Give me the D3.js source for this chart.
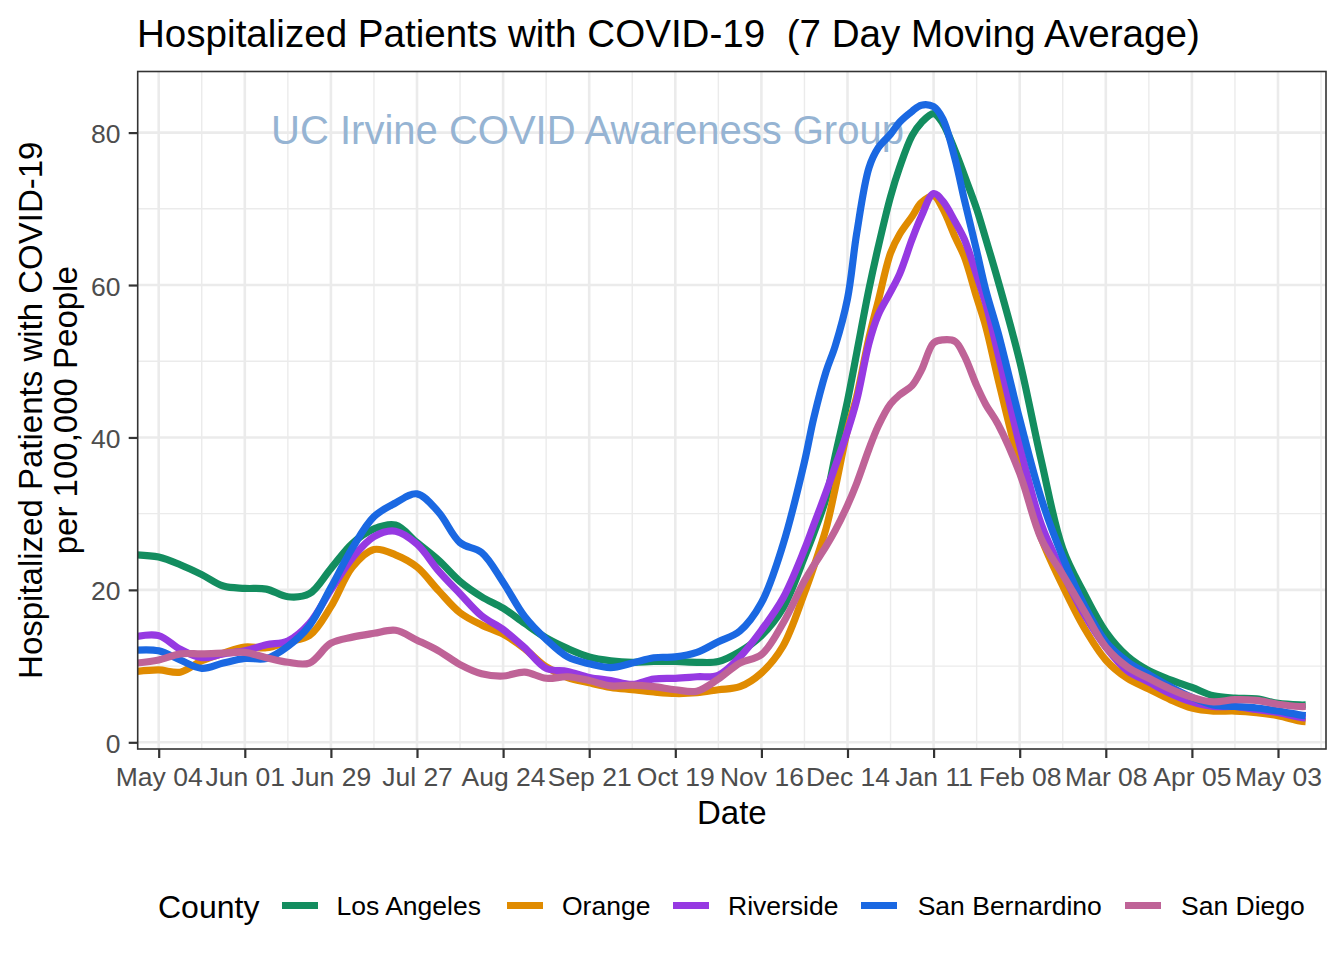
<!DOCTYPE html>
<html>
<head>
<meta charset="utf-8">
<script src="https://cdn.jsdelivr.net/npm/d3@7"></script>
<style>
  body { margin: 0; background: #ffffff; }
  svg { display: block; }
  text { font-family: "Liberation Sans", Arial, Helvetica, sans-serif; }
</style>
</head>
<body>
<svg id="chart" width="1344" height="960"></svg>
<script>
// ---------------- DATA ----------------
const dates = [
  "2020-04-27","2020-05-04","2020-05-11","2020-05-18","2020-05-25",
  "2020-06-01","2020-06-08","2020-06-15","2020-06-22","2020-06-29",
  "2020-07-06","2020-07-13","2020-07-20","2020-07-27",
  "2020-08-03","2020-08-10","2020-08-17","2020-08-24","2020-08-31",
  "2020-09-07","2020-09-14","2020-09-21","2020-09-28",
  "2020-10-05","2020-10-12","2020-10-19","2020-10-26",
  "2020-11-02","2020-11-09","2020-11-16","2020-11-23","2020-11-30",
  "2020-12-03","2020-12-07","2020-12-10","2020-12-14","2020-12-17","2020-12-21","2020-12-24","2020-12-28","2020-12-31",
  "2021-01-04","2021-01-07","2021-01-11","2021-01-14","2021-01-18","2021-01-21","2021-01-25","2021-01-28",
  "2021-02-01","2021-02-08","2021-02-15","2021-02-22",
  "2021-03-01","2021-03-08","2021-03-15","2021-03-22","2021-03-29",
  "2021-04-05","2021-04-12","2021-04-19","2021-04-26",
  "2021-05-03","2021-05-10","2021-05-12"
];

const losAngeles = [
  24.6,24.3,23.3,22.0,20.5,
  20.2,20.1,19.1,19.5,22.8,
  26.1,28.0,28.5,26.2,
  23.9,21.1,19.1,17.6,15.6,
  13.7,12.3,11.2,10.7,
  10.5,10.6,10.6,10.5,
  10.6,11.9,14.0,17.6,24.3,
  27.4,32.0,37.6,44.8,51.1,59.5,65.0,71.6,75.5,
  79.6,81.3,82.5,81.2,77.6,74.4,70.0,66.0,
  60.5,50.0,37.0,25.4,
  19.5,14.5,11.3,9.4,8.2,
  7.2,6.1,5.8,5.7,
  5.1,4.9,4.9
];

const orange = [
  9.3,9.5,9.2,10.7,11.7,
  12.5,12.4,13.2,14.0,17.8,
  23.0,25.3,24.6,23.0,
  19.9,17.0,15.4,14.2,12.3,
  9.9,8.5,7.8,7.2,
  6.9,6.6,6.4,6.5,
  6.9,7.3,9.1,12.6,19.6,
  23.0,28.0,33.3,41.0,45.4,53.1,57.9,64.2,66.7,
  69.0,70.8,71.7,70.0,66.3,63.7,58.4,54.5,
  47.6,36.3,26.8,20.5,
  15.0,10.8,8.4,7.0,5.6,
  4.5,4.1,4.1,3.9,
  3.5,2.8,2.7
];

const riverside = [
  13.9,14.0,12.2,11.1,11.6,
  12.0,12.8,13.3,15.6,20.0,
  24.2,27.0,27.7,26.0,
  22.5,19.5,16.6,14.8,12.4,
  9.7,9.3,8.5,8.1,
  7.6,8.3,8.4,8.6,
  8.8,11.2,14.7,18.9,25.3,
  28.5,32.8,36.2,40.8,44.9,52.4,56.1,59.1,61.5,
  66.0,69.0,72.0,71.0,68.3,66.0,61.3,57.5,
  50.9,39.0,28.6,22.3,
  16.8,12.5,9.4,7.9,6.4,
  5.3,4.7,4.7,4.3,
  3.9,3.3,3.2
];

const sanBernardino = [
  12.1,12.0,10.8,9.7,10.4,
  11.0,11.0,12.6,15.3,20.3,
  25.5,29.6,31.4,32.6,
  30.2,26.2,24.9,21.0,16.5,
  13.5,11.2,10.3,9.8,
  10.4,11.1,11.2,11.8,
  13.2,14.6,18.3,25.9,36.8,
  42.5,48.6,52.0,58.2,66.8,75.4,78.0,79.8,81.4,
  82.8,83.6,83.4,81.8,76.5,71.2,64.5,59.3,
  53.7,42.4,32.0,24.3,
  18.0,13.2,10.6,8.9,7.3,
  5.9,4.9,4.7,4.5,
  4.1,3.6,3.5
];

const sanDiego = [
  10.4,10.8,11.6,11.6,11.7,
  11.8,11.1,10.5,10.4,13.0,
  13.8,14.3,14.7,13.4,
  12.0,10.2,9.0,8.7,9.2,
  8.4,8.6,8.1,7.4,
  7.5,7.3,6.9,6.7,
  8.3,10.4,11.5,15.6,21.2,
  23.2,25.7,27.8,31.1,34.0,38.5,41.5,44.4,45.6,
  46.8,48.8,52.4,52.8,52.6,50.7,46.8,44.3,
  41.7,35.3,26.7,22.0,
  17.2,12.5,9.9,8.4,7.0,
  5.9,5.3,5.6,5.5,
  5.0,4.7,4.7
];

const counties = ["Los Angeles", "Orange", "Riverside", "San Bernardino", "San Diego"];
const countyColors = ["#138D5F", "#E08B00", "#9639E2", "#1A68E2", "#BF6397"];

const xTickDates = ["2020-05-04","2020-06-01","2020-06-29","2020-07-27","2020-08-24","2020-09-21",
                    "2020-10-19","2020-11-16","2020-12-14","2021-01-11","2021-02-08","2021-03-08",
                    "2021-04-05","2021-05-03"];
const xTickLabels = ["May 04","Jun 01","Jun 29","Jul 27","Aug 24","Sep 21","Oct 19","Nov 16",
                     "Dec 14","Jan 11","Feb 08","Mar 08","Apr 05","May 03"];
const yTicks = [0, 20, 40, 60, 80];
const yMinorTicks = [10, 30, 50, 70];

const titleText = "Hospitalized Patients with COVID-19  (7 Day Moving Average)";
const watermarkText = "UC Irvine COVID Awareness Group";
const yTitleLines = ["Hospitalized Patients with COVID-19", "per 100,000 People"];
const xTitleText = "Date";
const legendTitleText = "County";

// ---------------- LAYOUT ----------------
const svg = d3.select("#chart");
const panel = { left: 137.7, top: 71.5, right: 1326, bottom: 749 };
const parse = d3.utcParse("%Y-%m-%d");
const seriesValues = [losAngeles, orange, riverside, sanBernardino, sanDiego];
const parsedDates = dates.map(parse);

const x = d3.scaleUtc()
  .domain([parse("2020-05-04"), parse("2021-05-03")])
  .range([158.7, 1278]);
const y = d3.scaleLinear().domain([0, 80]).range([742.3, 132.6]);

svg.append("rect").attr("x", 0).attr("y", 0).attr("width", 1344).attr("height", 960).attr("fill", "#fff");

// clip
svg.append("defs").append("clipPath").attr("id", "panelClip")
  .append("rect")
  .attr("x", panel.left).attr("y", panel.top)
  .attr("width", panel.right - panel.left).attr("height", panel.bottom - panel.top);

const grid = svg.append("g").attr("clip-path", "url(#panelClip)");
const gridColor = "#EBEBEB";

// minor x grid (midpoints)
const majorDates = xTickDates.map(parse);
const minorDates = [d3.utcDay.offset(majorDates[0], -14)].concat(majorDates.map(d => d3.utcDay.offset(d, 14)))
  .filter(d => x(d) > panel.left && x(d) < panel.right);
grid.selectAll(".xminor").data(minorDates).join("line")
  .attr("x1", d => x(d)).attr("x2", d => x(d))
  .attr("y1", panel.top).attr("y2", panel.bottom)
  .attr("stroke", gridColor).attr("stroke-width", 1.4);
grid.selectAll(".yminor").data(yMinorTicks).join("line")
  .attr("x1", panel.left).attr("x2", panel.right)
  .attr("y1", d => y(d)).attr("y2", d => y(d))
  .attr("stroke", gridColor).attr("stroke-width", 1.4);
grid.selectAll(".xmajor").data(majorDates).join("line")
  .attr("x1", d => x(d)).attr("x2", d => x(d))
  .attr("y1", panel.top).attr("y2", panel.bottom)
  .attr("stroke", gridColor).attr("stroke-width", 2.6);
grid.selectAll(".ymajor").data(yTicks).join("line")
  .attr("x1", panel.left).attr("x2", panel.right)
  .attr("y1", d => y(d)).attr("y2", d => y(d))
  .attr("stroke", gridColor).attr("stroke-width", 2.6);

// watermark
svg.append("text")
  .attr("x", 587.5).attr("y", 144)
  .attr("text-anchor", "middle")
  .attr("font-size", 40)
  .attr("fill", "#96B4D3")
  .text(watermarkText);

// lines
const line = d3.line()
  .x((d, i) => x(parsedDates[i]))
  .y(d => y(d))
  .curve(d3.curveCatmullRom.alpha(0.5));

const linesG = svg.append("g").attr("clip-path", "url(#panelClip)");
seriesValues.forEach((vals, k) => {
  linesG.append("path")
    .attr("d", line(vals))
    .attr("fill", "none")
    .attr("stroke", countyColors[k])
    .attr("stroke-width", 7.2)
    .attr("stroke-linejoin", "round")
    .attr("stroke-linecap", "butt");
});

// panel border
svg.append("rect")
  .attr("x", panel.left).attr("y", panel.top)
  .attr("width", panel.right - panel.left).attr("height", panel.bottom - panel.top)
  .attr("fill", "none").attr("stroke", "#333333").attr("stroke-width", 1.6);

// axes
const xAxis = d3.axisBottom(x)
  .tickValues(majorDates)
  .tickFormat((d, i) => xTickLabels[i])
  .tickSize(9).tickPadding(9);
const gx = svg.append("g").attr("transform", `translate(0,${panel.bottom})`).call(xAxis);
gx.select(".domain").remove();
gx.selectAll(".tick line").attr("stroke", "#333333").attr("stroke-width", 2.2);
gx.selectAll(".tick text").attr("fill", "#4D4D4D").attr("font-size", 26.5)
  .attr("font-family", "Liberation Sans, Arial, sans-serif");

const yAxis = d3.axisLeft(y).tickValues(yTicks).tickFormat(d3.format("d")).tickSize(9).tickPadding(8.2);
const gy = svg.append("g").attr("transform", `translate(${panel.left},0)`).call(yAxis);
gy.select(".domain").remove();
gy.selectAll(".tick line").attr("stroke", "#333333").attr("stroke-width", 2.2);
gy.selectAll(".tick text").attr("fill", "#4D4D4D").attr("font-size", 26.5).attr("dy", "0.38em")
  .attr("font-family", "Liberation Sans, Arial, sans-serif");

// title (keep double space)
svg.append("text").attr("x", 137).attr("y", 46.5)
  .attr("font-size", 38.6).attr("fill", "#000")
  .style("white-space", "pre")
  .attr("xml:space", "preserve")
  .text(titleText);

// axis titles
const panelMidY = (panel.top + panel.bottom) / 2;
const panelMidX = (panel.left + panel.right) / 2;
svg.append("text").attr("x", panelMidX).attr("y", 824)
  .attr("text-anchor", "middle").attr("font-size", 33).attr("fill", "#000")
  .text(xTitleText);
[41.7, 77.3].forEach((bx, i) => {
  svg.append("text")
    .attr("transform", `translate(${bx},${panelMidY}) rotate(-90)`)
    .attr("text-anchor", "middle").attr("font-size", 33).attr("fill", "#000")
    .text(yTitleLines[i]);
});

// legend
const legendY = 905.5;
svg.append("text").attr("x", 158).attr("y", 917.5).attr("font-size", 32).attr("fill", "#000")
  .text(legendTitleText);
const keyStarts = [282, 507, 673, 861, 1125];
const labelStarts = [336.5, 562, 728, 917.7, 1181];
counties.forEach((c, k) => {
  svg.append("line")
    .attr("x1", keyStarts[k]).attr("x2", keyStarts[k] + 36)
    .attr("y1", legendY).attr("y2", legendY)
    .attr("stroke", countyColors[k]).attr("stroke-width", 7.2);
  svg.append("text").attr("x", labelStarts[k]).attr("y", 915)
    .attr("font-size", 26.5).attr("fill", "#000").text(c);
});
</script>
</body>
</html>
